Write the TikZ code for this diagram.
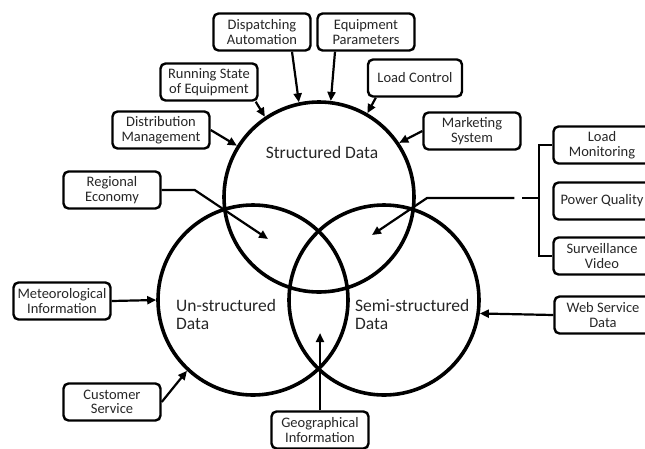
\documentclass[tikz,border=0pt]{standalone}
\usepackage{fontspec}
\setmainfont{Carlito}
\usetikzlibrary{arrows.meta,calc}

\begin{document}
\begin{tikzpicture}[x=1pt,y=-1pt,
	source/.style={draw,line width=2.4pt,rounded corners=5pt,minimum width=97pt,minimum height=37pt,inner sep=1pt,align=center,text=black!85,font=\fontsize{14.5}{14.5}\selectfont},
	dataset/.style={circle,draw,line width=3.6pt,minimum size=190pt,inner sep=0pt},
	settext/.style={align=left,inner sep=0pt,text=black!85,font=\fontsize{17.5}{18}\selectfont},
	feed/.style={line width=2.2pt,-{Triangle[length=9pt,width=8pt]}}]
	\useasboundingbox (0,0) rectangle (645,448);
	\clip (0,0) rectangle (645,448);

	\node[dataset] (sd) at (319,197) {};
	\node[dataset] (ud) at (253,300) {};
	\node[dataset] (md) at (384,300) {};
	\node[settext] (sdtext) at (322,152) {Structured Data};
	\node[settext,anchor=west] (udtext) at (176,314) {Un-structured\\Data};
	\node[settext,anchor=west] (mdtext) at (355,314) {Semi-structured\\Data};

	\node[source] (dispatch) at (262,32) {Dispatching\\Automation};
	\node[source] (param) at (366,32) {Equipment\\Parameters};
	\node[source] (running) at (209,82) {Running State\\of Equipment};
	\node[source,minimum width=94pt] (load) at (415,78) {Load Control};
	\node[source] (distrib) at (161,130) {Distribution\\Management};
	\node[source] (market) at (472,131) {Marketing\\System};
	\node[source] (region) at (112,190) {Regional\\Economy};
	\node[source] (meteo) at (62,301) {Meteorological\\Information};
	\node[source] (customer) at (112,402) {Customer\\Service};
	\node[source] (geo) at (320,430) {Geographical\\Information};
	\node[source] (web) at (603,315) {Web Service\\Data};
	\node[source] (monitor) at (602,145) {Load\\Monitoring};
	\node[source] (quality) at (602,201) {Power Quality};
	\node[source] (video) at (602,256) {Surveillance\\Video};

	\draw[feed] ([xshift=30pt]dispatch.south) -- (sd.102);
	\draw[feed] ([xshift=-31pt]param.south) -- (sd.83);
	\draw[feed] ([xshift=-3pt]running.south east) -- (sd.124);
	\draw[feed] ([xshift=9pt]load.south west) -- (sd.60);
	\draw[feed] (distrib.east) -- (sd.148);
	\draw[feed] (market.west) -- (sd.34);
	\draw[feed] (meteo.east) -- (ud.180);
	\draw[feed] (customer.east) -- (ud.227);
	\draw[feed] (web.west) -- (md.-8);

	\coordinate (rtip) at (268,239);
	\draw[feed] (region.east) -- ++(33,0) -- (rtip);
	\coordinate (gtip) at (320,333);
	\draw[feed] (geo.north) -- (gtip);

	% brace of the semi-structured sources
	\draw[line width=2.2pt] (monitor.west) -- ++(-13,0) coordinate (btop) |- (video.west);
	\draw[line width=2.2pt] (btop |- 0,198) coordinate (bmid) -- ++(-17,0);
	\coordinate (mtip) at (372,235);
	\draw[feed] ($(bmid)+(-25,0)$) -- (427,198) -- (mtip);
\end{tikzpicture}
\end{document}
